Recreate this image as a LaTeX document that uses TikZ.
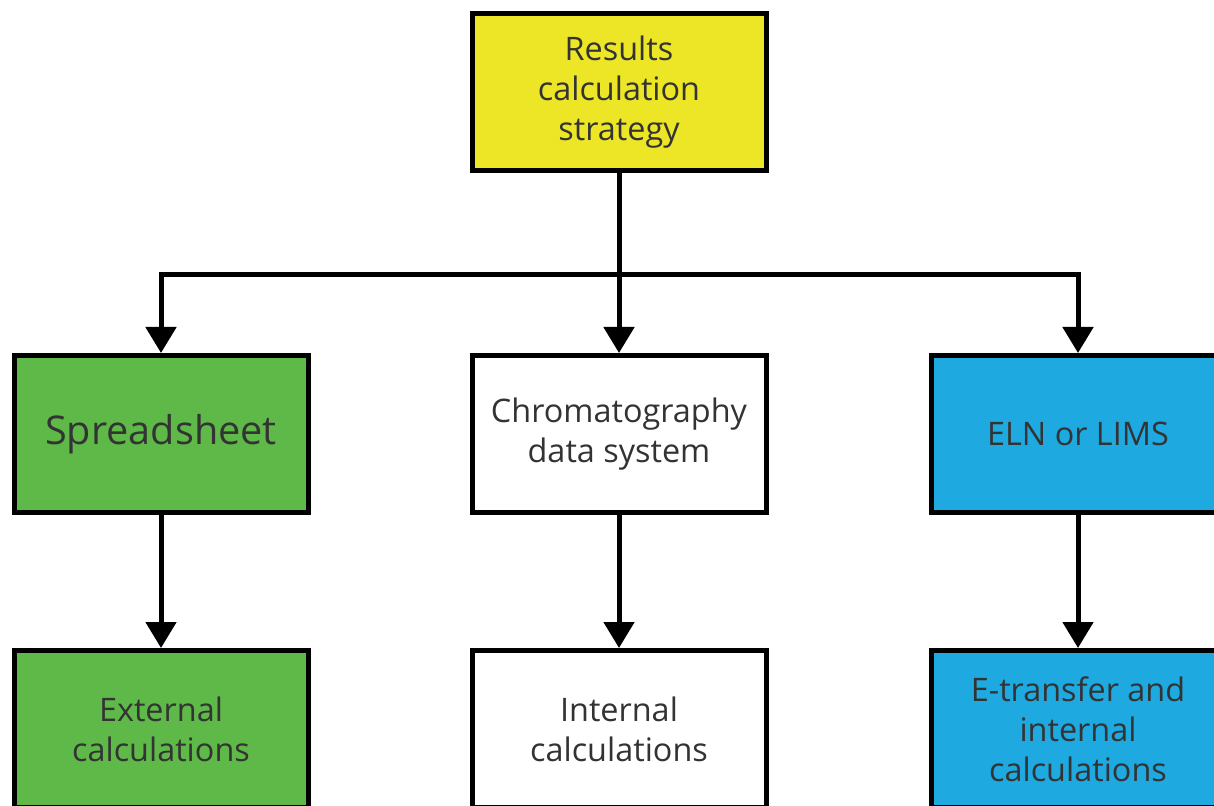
\documentclass[tikz,border=0pt]{standalone}
\usepackage{fontspec}
\setmainfont{Open Sans}
\usetikzlibrary{arrows.meta,positioning}
\definecolor{boxyellow}{RGB}{237,230,38}
\definecolor{boxgreen}{RGB}{94,185,72}
\definecolor{boxblue}{RGB}{30,169,224}
\definecolor{textgray}{RGB}{51,51,51}

\begin{document}
\begin{tikzpicture}[x=0.5pt,y=-0.5pt,
    box/.style={draw,rectangle,line width=2.5pt,minimum width=147pt,minimum height=78.5pt,
        align=center,text=textgray,font=\fontsize{16.2}{20}\selectfont},
    link/.style={line width=2.5pt,-{Triangle[width=15pt,length=13pt]}}]
    \useasboundingbox (0,0) rectangle (1214,806);
    \clip (0,0) rectangle (1214,806);
    \path
        (619,92)      node[box,fill=boxyellow] (strat){Results\\calculation\\strategy}
     ++ (-458,342)    node[box,fill=boxgreen,font=\fontsize{19.8}{22}\selectfont] (sheet){Spreadsheet}
     ++ (458,0)       node[box,fill=white] (cds){Chromatography\\data system}
     ++ (459,0)       node[box,fill=boxblue] (eln){ELN or LIMS}
     ;
    \path
        (161,729)     node[box,fill=boxgreen] (ext){External\\calculations}
     ++ (458,0)       node[box,fill=white] (int){Internal\\calculations}
     ++ (459,0)       node[box,fill=boxblue] (etr){E-transfer and\\internal\\calculations}
     ;
    \coordinate (split) at (619,275);
    \draw [link] (strat) -- (cds);
    \draw [link] (split) -| (sheet);
    \draw [link] (split) -| (eln);
    \draw [link] (sheet) -- (ext);
    \draw [link] (cds) -- (int);
    \draw [link] (eln) -- (etr);
\end{tikzpicture}
\end{document}
